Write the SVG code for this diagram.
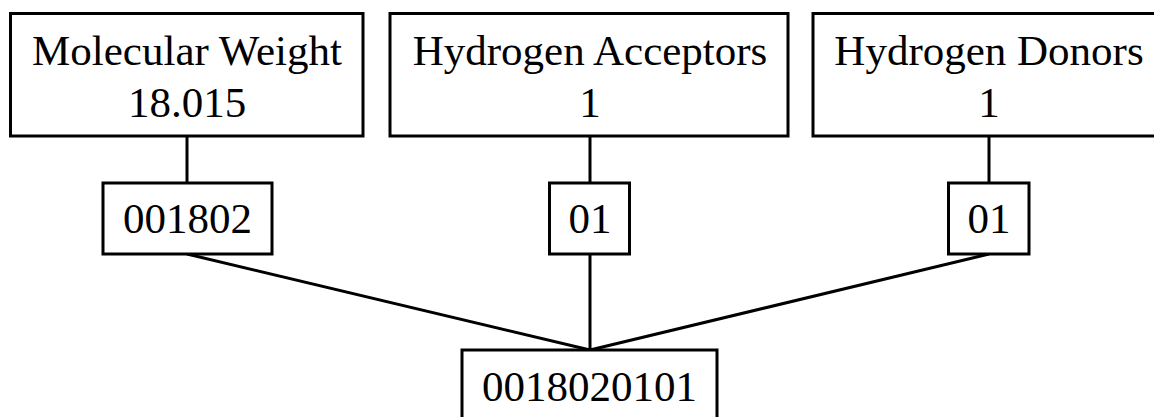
<svg xmlns="http://www.w3.org/2000/svg" width="1154" height="417" viewBox="0 0 1154 417">
<style>
.box{fill:#fff;stroke:#000;stroke-width:3}
.t{font-family:"Liberation Serif","Times New Roman",serif;font-size:43px;fill:#000;text-anchor:middle}
.c{stroke:#000;stroke-width:3;fill:none}
</style>
<rect width="1154" height="417" fill="#fff"/>
<g id="connectors">
<line class="c" x1="187" y1="136" x2="187" y2="183"/>
<line class="c" x1="590" y1="136" x2="590" y2="183"/>
<line class="c" x1="989" y1="136" x2="989" y2="183"/>
<line class="c" x1="187" y1="254" x2="590" y2="350"/>
<line class="c" x1="590" y1="254" x2="590" y2="350"/>
<line class="c" x1="989" y1="254" x2="590" y2="350"/>
</g>
<g id="mw">
<rect class="box" x="10.5" y="13.5" width="352.5" height="122.5"/>
<text class="t" x="187" y="65">Molecular Weight</text>
<text class="t" x="187" y="117">18.015</text>
</g>
<g id="ha">
<rect class="box" x="390" y="13.5" width="398" height="122.5"/>
<text class="t" x="590" y="65">Hydrogen Acceptors</text>
<text class="t" x="590" y="117">1</text>
</g>
<g id="hd">
<rect class="box" x="813" y="13.5" width="352" height="122.5"/>
<text class="t" x="989" y="65">Hydrogen Donors</text>
<text class="t" x="989" y="117">1</text>
</g>
<g id="mwcode">
<rect class="box" x="103" y="183" width="169" height="71"/>
<text class="t" x="187.5" y="233">001802</text>
</g>
<g id="hacode">
<rect class="box" x="549.5" y="183" width="80" height="71"/>
<text class="t" x="590" y="233">01</text>
</g>
<g id="hdcode">
<rect class="box" x="948.5" y="183" width="80.5" height="71"/>
<text class="t" x="989" y="233">01</text>
</g>
<g id="combined">
<rect class="box" x="462" y="350" width="255" height="80"/>
<text class="t" x="589.5" y="401">0018020101</text>
</g>
</svg>
